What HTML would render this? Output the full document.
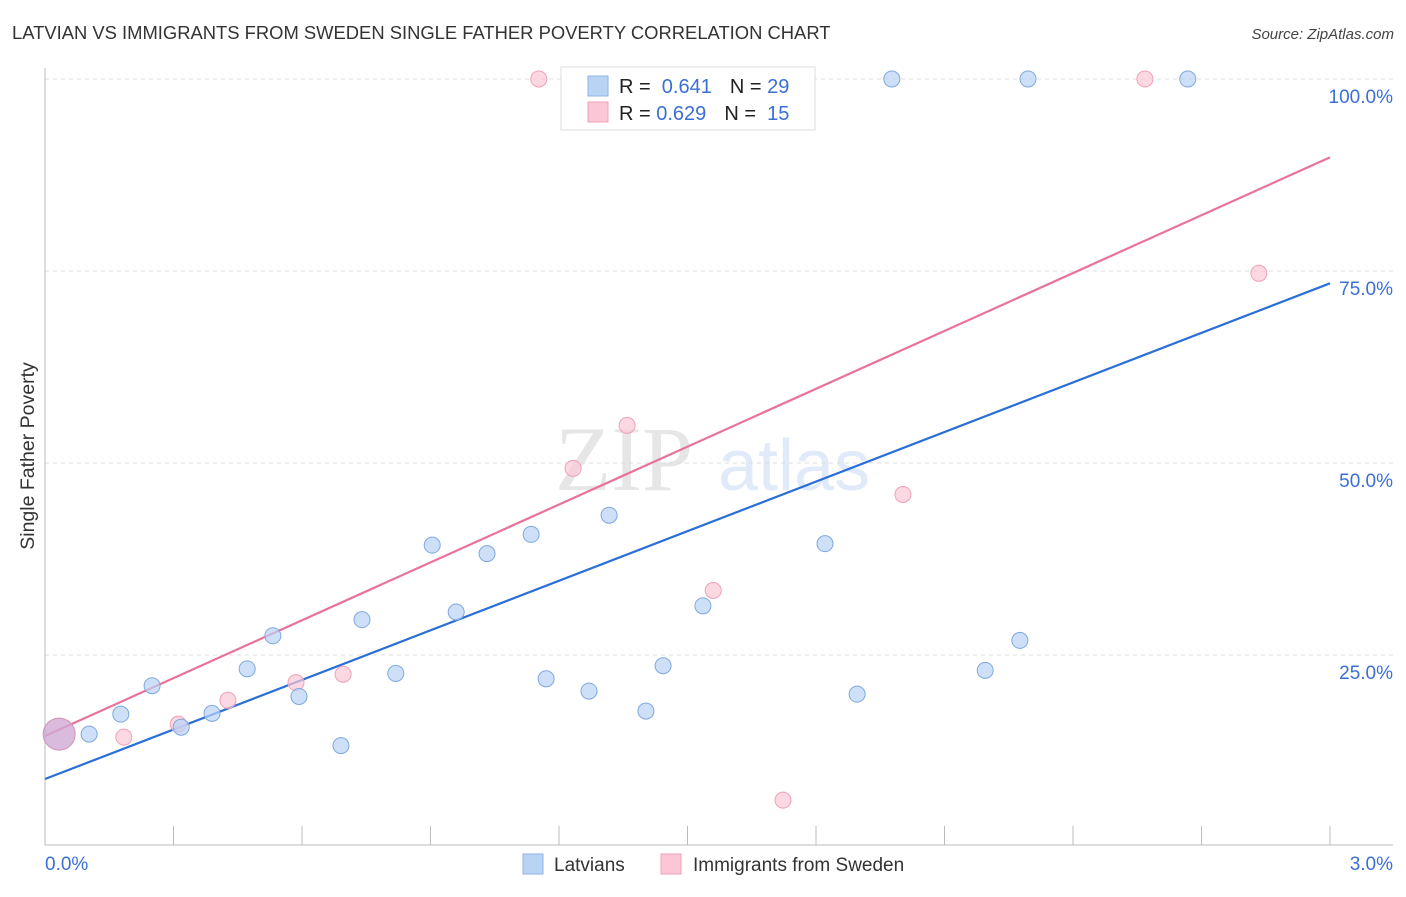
<!DOCTYPE html>
<html><head><meta charset="utf-8"><style>
body{margin:0;background:#fff;font-family:"Liberation Sans",sans-serif;}
</style></head><body>
<svg id="chart" width="1406" height="892" xmlns="http://www.w3.org/2000/svg" font-family="Liberation Sans, sans-serif">
<text x="12" y="39" font-size="18.4" fill="#333">LATVIAN VS IMMIGRANTS FROM SWEDEN SINGLE FATHER POVERTY CORRELATION CHART</text>
<text x="1394" y="39" font-size="15" fill="#444" text-anchor="end" font-style="italic">Source: ZipAtlas.com</text>
<g opacity="0.2">
<text x="555" y="490" font-size="92" font-family="Liberation Serif, serif" fill="#888">ZIP</text>
<text x="718" y="490" font-size="72" fill="#6a9ae0">atlas</text>
</g>
<text transform="translate(34,456) rotate(-90)" font-size="19.5" fill="#333" text-anchor="middle">Single Father Poverty</text>
<g id="grid"></g><g id="axes"></g><g id="lines"></g><g id="pts"></g>
<g>
<rect x="561" y="67" width="254" height="63" fill="#fff" stroke="#ddd"/>
<rect x="588" y="76" width="20" height="20" fill="#b9d3f5" stroke="#8fb5e8"/>
<rect x="588" y="102" width="20" height="20" fill="#fbc7d6" stroke="#f0a0b8"/>
<text x="619" y="93" font-size="20" fill="#222">R = <tspan fill="#3b6fd6">&#160;0.641</tspan><tspan dx="18">N = </tspan><tspan fill="#3b6fd6">29</tspan></text>
<text x="619" y="120" font-size="20" fill="#222">R = <tspan fill="#3b6fd6">0.629</tspan><tspan dx="18">N = </tspan><tspan fill="#3b6fd6">&#160;15</tspan></text>
</g>
<g>
<rect x="523" y="854" width="20" height="20" fill="#b9d3f5" stroke="#8fb5e8"/>
<text x="554" y="871" font-size="19" fill="#333">Latvians</text>
<rect x="661" y="854" width="20" height="20" fill="#fbc7d6" stroke="#f0a0b8"/>
<text x="693" y="871" font-size="19" fill="#333">Immigrants from Sweden</text>
</g>
</svg>
<script>
const blueX=[0.103,0.177,0.250,0.318,0.390,0.472,0.532,0.593,0.691,0.740,0.819,0.904,0.960,1.032,1.135,1.170,1.270,1.317,1.403,1.443,1.536,1.821,1.896,2.195,2.276,1.977,2.295,2.668];
const blueY=[14.7,17.3,21.0,15.6,17.4,23.2,27.5,19.6,13.2,29.6,22.6,39.3,30.6,38.2,40.7,21.9,20.3,43.2,17.7,23.6,31.4,39.5,19.9,23.0,26.9,100,100,100];
const pinkX=[0.184,0.311,0.427,0.586,0.696,1.153,1.233,1.359,1.506,1.560,1.723,2.003,2.568,2.834];
const pinkY=[14.3,16.0,19.1,21.4,22.5,100,49.3,54.9,100,33.4,6.1,45.9,100,74.7];
const bigX=[0.033], bigY=[14.7];
const blueTrend=[[0,8.85],[3,73.4]];
const pinkTrend=[[0,14.45],[3,89.8]];
const yTicks=[25,50,75,100], yTickLabels=["25.0%","50.0%","75.0%","100.0%"];
const xTickVals=[0,0.3,0.6,0.9,1.2,1.5,1.8,2.1,2.4,2.7,3.0];
const NS="http://www.w3.org/2000/svg";
const sx=v=>45+v*428.33, sy=v=>847-v*7.68;
function mk(t,a,p){const e=document.createElementNS(NS,t);for(const k in a)e.setAttribute(k,a[k]);p.appendChild(e);return e;}
const grid=document.getElementById('grid'),axes=document.getElementById('axes'),lines=document.getElementById('lines'),pts=document.getElementById('pts');
yTicks.forEach((v,i)=>{const l=mk('line',{x1:45,x2:1393,y1:sy(v),y2:sy(v),stroke:'#ddd','stroke-dasharray':'4,4'},grid);

const t=mk('text',{x:1393,y:sy(v)+24,'font-size':19,fill:'#3b6fd6','text-anchor':'end'},axes);t.textContent=yTickLabels[i];
});
const ax=mk('line',{x1:45,x2:45,y1:68,y2:845,stroke:'#bbb'},axes);
const bx=mk('line',{x1:45,x2:1393,y1:845,y2:845,stroke:'#bbb'},axes);
xTickVals.forEach(v=>{const t=mk('line',{x1:sx(v),x2:sx(v),y1:826,y2:845,stroke:'#bbb'},axes);});
[["0.0%",45,'start'],["3.0%",1393,'end']].forEach(d=>{const t=mk('text',{x:d[1],y:870,'font-size':19,fill:'#3b6fd6','text-anchor':d[2]},axes);t.textContent=d[0];});
[[blueTrend,'#2a6fd6','blue-trendline'],[pinkTrend,'#e8729a','pink-trendline']].forEach(d=>{const l=mk('line',{x1:sx(d[0][0][0]),y1:sy(d[0][0][1]),x2:sx(d[0][1][0]),y2:sy(d[0][1][1]),stroke:d[1],'stroke-width':2.2},lines);});
pinkX.forEach((x,i)=>{const c=mk('circle',{cx:sx(x),cy:sy(pinkY[i]),r:8,fill:'#fbc7d6','fill-opacity':0.7,stroke:'#f0a0b8'},pts);});
blueX.forEach((x,i)=>{const c=mk('circle',{cx:sx(x),cy:sy(blueY[i]),r:8,fill:'#b9d3f5','fill-opacity':0.7,stroke:'#7fa8e0'},pts);});
bigX.forEach((x,i)=>{const c=mk('circle',{cx:sx(x),cy:sy(bigY[i]),r:16,fill:'#cfaad6','fill-opacity':0.8,stroke:'#d690b8'},pts);});
</script>
</body></html>
